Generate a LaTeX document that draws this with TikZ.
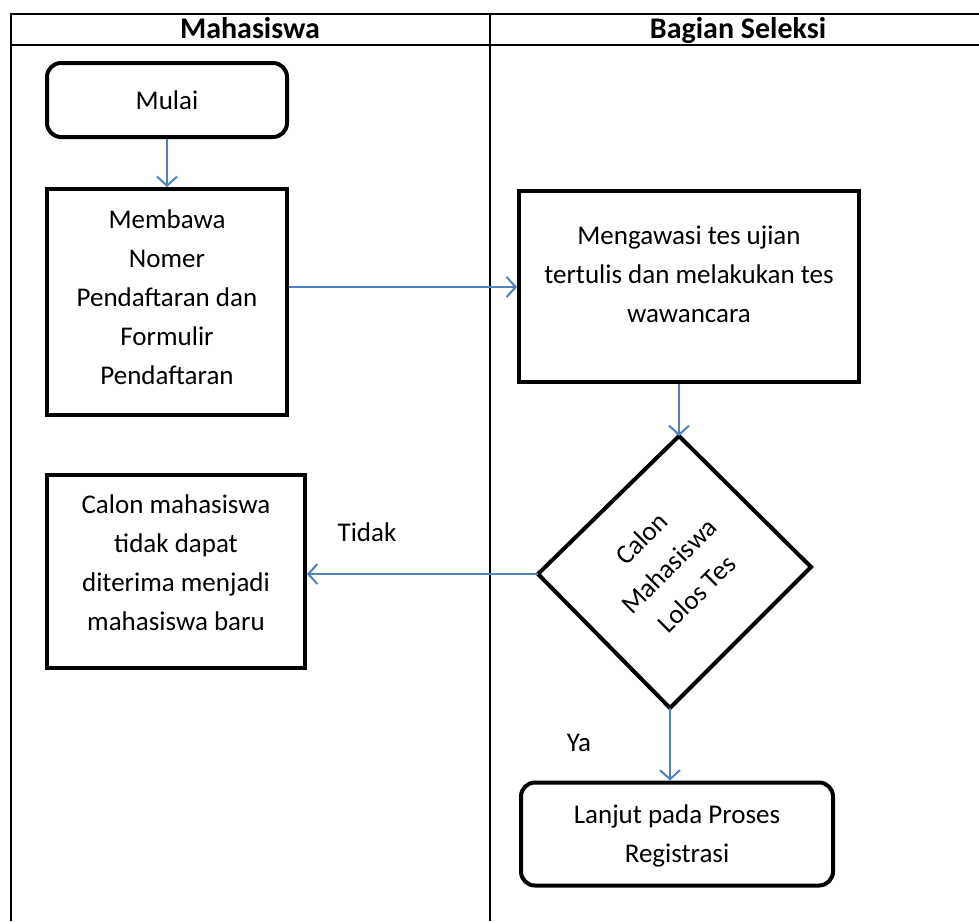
\documentclass[tikz,border=0pt]{standalone}
\usepackage{fontspec}
\setmainfont{Carlito}
\usetikzlibrary{shapes.geometric,arrows.meta}
\definecolor{flowblue}{RGB}{79,129,189}
\begin{document}
\begin{tikzpicture}[x=1pt,y=-1pt,
  font=\fontsize{27}{39}\selectfont,
  lane/.style={line width=2pt,black},
  procbox/.style={draw,line width=4pt,rectangle,align=center,inner sep=0pt},
  termbox/.style={draw,line width=4pt,rectangle,rounded corners=14pt,align=center,inner sep=0pt},
  decline/.style={draw,line width=4pt,line join=miter},
  flow/.style={draw=flowblue,line width=2pt,-{Straight Barb[length=9pt,width=20pt,line width=2pt]}},
  headtext/.style={font=\fontsize{30}{34}\selectfont\bfseries,anchor=base,inner sep=0pt},
  plain/.style={inner sep=0pt}
]
\useasboundingbox (0,0) rectangle (979,921);
% swimlane table
\draw[lane] (11,921) -- (11,14) -- (979,14);
\draw[lane] (11,45) -- (979,45);
\draw[lane] (490,14) -- (490,921);
\node[headtext] (h1) at (250,38) {Mahasiswa};
\node[headtext] (h2) at (738,38) {Bagian Seleksi};
% nodes
\node[termbox,minimum width=240pt,minimum height=74pt] (mulai) at (167,100) {Mulai};
\node[procbox,minimum width=240pt,minimum height=226pt,text depth=9pt] (bawa) at (167,302)
  {Membawa\\Nomer\\Pendaftaran dan\\Formulir\\Pendaftaran};
\node[procbox,minimum width=340pt,minimum height=191pt,text depth=24pt] (awasi) at (689,286)
  {Mengawasi tes ujian\\tertulis dan melakukan tes\\wawancara};
% decision diamond (slightly skewed as in the reference)
\coordinate (dtop) at (679,436);
\coordinate (dright) at (811,567);
\coordinate (dbottom) at (670,708);
\coordinate (dleft) at (538,574);
\draw[decline] (dtop) -- (dright) -- (dbottom) -- (dleft) -- cycle;
\node[plain,rotate=45,align=center] (lolos) at (669,566) {Calon\\Mahasiswa\\Lolos Tes};
\node[procbox,minimum width=258pt,minimum height=193pt,text depth=16pt] (tolak) at (176,571)
  {Calon mahasiswa\\tidak dapat\\diterima menjadi\\mahasiswa baru};
\node[termbox,minimum width=312pt,minimum height=103pt,text depth=0pt] (lanjut) at (677,834)
  {Lanjut pada Proses\\Registrasi};
% labels
\node[plain] (tidak) at (367,532) {Tidak};
\node[plain] (ya) at (579,743) {Ya};
% connectors
\draw[flow] (bawa.east |- 0,287) -- (awasi.west |- 0,287);
\draw[flow] (mulai.south) -- (bawa.north);
\draw[flow] (awasi.south -| dtop) -- (dtop);
\draw[flow] (dleft) -- (tolak.east |- dleft);
\draw[flow] (dbottom) -- (dbottom |- lanjut.north);
\end{tikzpicture}
\end{document}
